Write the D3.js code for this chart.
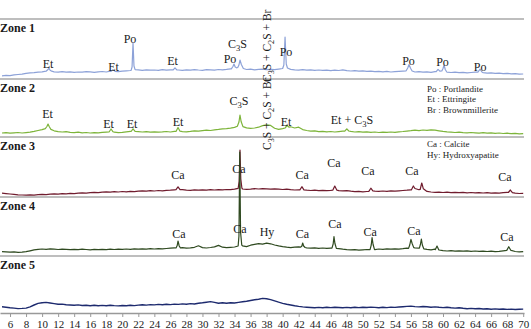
<!DOCTYPE html>
<html>
<head>
<meta charset="utf-8">
<script src="https://cdn.jsdelivr.net/npm/d3@7"></script>
<style>
  body { margin: 0; background: #fff; }
  svg { display: block; }
  text { font-family: "Liberation Serif", "Times New Roman", serif; fill: #1a1a1a; }
</style>
</head>
<body>
<svg id="chart" width="531" height="329"></svg>
<script>
// XRD patterns, intensity (arbitrary units, 0 = zone floor)
const zoneNames = ['Zone 1', 'Zone 2', 'Zone 3', 'Zone 4', 'Zone 5'];
const zoneColors = ['#8da2d8', '#7db43a', '#701c2e', '#2f4a20', '#1d2a6e'];

// baseline sampled every 0.5 deg, 5 -> 70
const thetaStart = 5, thetaStep = 0.5;

const zone1Base = [
  3.2, 3.6, 3.4, 4.1, 4.5, 4.9, 5.6, 6.1, 6.4, 6.9,
  7.2, 7.8, 7.6, 7.1, 6.8, 7.3, 6.9, 7.2, 6.6, 7.0,
  6.8, 7.4, 7.1, 6.7, 7.2, 7.5, 7.0, 7.8, 7.6, 7.3,
  7.9, 8.2, 8.5, 9.6, 9.1, 8.7, 9.2, 8.8, 9.0, 8.6,
  9.3, 8.9, 9.1, 9.6, 9.0, 8.7, 9.2, 8.8, 9.4, 9.0,
  8.7, 9.3, 9.1, 8.8, 9.5, 9.2, 9.6, 10.1, 10.4, 10.8,
  10.2, 9.5, 9.8, 9.2, 9.6, 9.9, 9.4, 9.7, 9.3, 9.9,
  10.4, 10.6, 9.6, 9.2, 8.9, 9.3, 8.8, 9.1, 8.7, 9.0,
  8.6, 8.9, 8.4, 8.8, 8.5, 9.2, 8.3, 8.0, 8.4, 7.8,
  8.1, 7.6, 7.9, 7.4, 7.7, 7.2, 7.6, 7.0, 7.3, 7.6,
  7.9, 8.3, 7.6, 7.0, 7.4, 6.8, 7.1, 6.6, 7.3, 7.9,
  7.4, 6.8, 6.5, 6.9, 6.3, 6.6, 6.1, 6.5, 6.8, 7.2,
  6.4, 5.9, 6.2, 5.6, 5.9, 5.4, 5.7, 5.1, 5.4, 4.8,
  5.0
];
const zone2Base = [
  4.0, 4.3, 3.8, 4.2, 4.5, 4.0, 4.4, 4.8, 5.6, 6.5,
  7.4, 8.6, 7.5, 6.2, 5.4, 5.0, 5.3, 4.7, 4.4, 4.8,
  4.2, 4.5, 4.0, 4.4, 4.1, 4.6, 4.9, 5.3, 4.8, 4.4,
  4.7, 5.2, 5.6, 5.8, 5.3, 5.0, 5.4, 4.9, 5.2, 4.8,
  5.1, 5.5, 5.0, 5.6, 5.8, 5.4, 5.2, 5.6, 6.2, 5.8,
  6.4, 6.9, 6.5, 7.2, 7.6, 8.1, 8.4, 8.9, 9.6, 10.5,
  10.2, 9.1, 8.6, 9.0, 9.8, 11.4, 12.2, 11.6, 8.8, 7.6,
  8.3, 9.5, 10.2, 9.0, 9.8, 7.4, 6.5, 5.8, 6.2, 5.4,
  5.7, 5.2, 5.5, 5.0, 5.4, 5.8, 6.3, 5.6, 5.0, 5.3,
  4.8, 5.1, 4.6, 5.0, 4.5, 4.9, 4.6, 5.0, 4.7, 5.2,
  5.5, 5.9, 6.3, 6.8, 6.4, 7.0, 6.6, 7.2, 6.8, 6.2,
  5.6, 5.1, 4.8, 4.5, 4.9, 4.4, 4.1, 4.5, 4.2, 3.9,
  4.3, 3.8, 4.1, 3.6, 4.0, 3.5, 3.8, 3.3, 3.6, 3.2,
  3.4
];
const zone3Base = [
  3.8, 3.4, 3.0, 2.6, 2.2, 2.0, 1.8, 2.1, 1.9, 2.4,
  2.6, 2.3, 2.8, 3.1, 2.9, 3.4, 3.2, 3.6, 3.4, 3.9,
  4.1, 3.8, 4.3, 4.6, 4.4, 4.9, 5.2, 4.8, 5.3, 5.0,
  5.5, 5.2, 5.7, 5.4, 5.9, 6.2, 5.8, 6.3, 6.0, 6.5,
  6.2, 6.7, 6.9, 7.2, 7.0, 7.4, 6.9, 6.6, 7.1, 6.8,
  7.2, 6.9, 7.3, 7.0, 7.4, 7.1, 7.5, 7.3, 7.8, 8.4,
  8.0, 7.6, 7.9, 8.3, 8.0, 8.4, 8.1, 7.8, 8.2, 7.9,
  7.5, 7.8, 7.3, 7.0, 7.2, 7.4, 6.8, 6.5, 6.9, 6.4,
  6.7, 6.3, 6.6, 6.9, 6.4, 6.1, 6.3, 5.8, 5.4, 5.6,
  5.2, 5.5, 6.0, 5.8, 5.6, 6.0, 5.7, 6.1, 5.8, 6.2,
  6.5, 6.8, 7.2, 7.0, 7.3, 6.6, 5.6, 5.0, 4.7, 4.9,
  4.5, 4.8, 4.4, 4.7, 4.3, 4.6, 4.2, 4.5, 4.1, 4.4,
  4.0, 4.3, 3.9, 4.2, 3.8, 4.3, 4.6, 4.4, 3.8, 3.5,
  3.6
];
const zone4Base = [
  4.4, 4.1, 3.8, 4.2, 3.7, 3.9, 4.3, 5.2, 6.1, 6.6,
  7.0, 6.7, 7.1, 6.8, 6.5, 6.9, 6.6, 6.3, 6.7, 6.4,
  6.8, 6.5, 6.2, 6.6, 6.3, 6.7, 6.4, 6.8, 6.5, 6.9,
  6.6, 7.0, 6.7, 7.1, 6.8, 7.2, 6.9, 7.3, 7.0, 7.4,
  7.1, 7.5, 7.8, 8.1, 7.9, 8.3, 7.8, 8.2, 8.7, 10.2,
  8.4, 8.0, 8.5, 9.1, 10.6, 8.8, 8.3, 8.7, 9.0, 10.5,
  10.2, 9.4, 10.8, 11.6, 12.3, 11.8, 12.8, 12.2, 11.0, 10.1,
  9.3, 8.8, 8.4, 8.8, 9.2, 8.6, 8.2, 7.8, 8.1, 7.7,
  8.0, 7.6, 7.9, 7.5, 7.3, 6.8, 6.4, 6.1, 6.3, 5.9,
  6.2, 6.5, 6.1, 6.4, 7.0, 6.7, 7.1, 6.8, 7.2, 6.9,
  7.3, 7.8, 7.5, 8.2, 7.9, 7.4, 6.6, 6.2, 6.8, 6.0,
  5.4, 5.0, 5.3, 4.9, 5.2, 4.8, 5.1, 4.7, 5.0, 4.6,
  4.9, 4.5, 4.8, 4.4, 4.7, 5.2, 5.8, 5.6, 4.5, 4.2,
  4.4
];
const zone5Base = [
  6.2, 5.8, 5.3, 4.9, 4.4, 4.6, 4.9, 6.2, 8.0, 9.6,
  10.3, 10.6, 10.0, 9.4, 8.7, 8.9, 8.3, 8.0, 7.7, 8.1,
  7.5, 7.8, 7.3, 7.7, 7.2, 7.6, 7.3, 7.8, 7.4, 7.1,
  7.5, 7.2, 7.7, 7.4, 7.9, 8.3, 7.9, 8.4, 8.1, 8.6,
  8.2, 8.7, 8.4, 8.9, 8.6, 9.1, 8.8, 9.4, 9.0, 9.7,
  10.2, 10.8, 11.4, 10.6, 9.8, 10.2, 9.7, 10.3, 10.0, 10.6,
  11.2, 11.8, 12.5, 13.2, 13.8, 14.6, 14.2, 13.4, 12.1, 10.8,
  9.6, 8.7, 8.0, 7.2, 6.6, 6.1, 5.8, 5.5, 5.2, 5.6,
  5.3, 5.7, 5.4, 5.8, 5.5, 5.2, 5.6, 5.3, 5.7, 5.4,
  5.8, 5.5, 5.9, 5.6, 5.3, 5.7, 5.4, 5.9, 5.6, 6.0,
  6.3, 6.6, 6.9, 6.4, 6.1, 6.5, 6.2, 5.8, 6.1, 5.7,
  5.4, 5.8, 5.3, 4.9, 5.2, 4.7, 4.3, 4.6, 4.2, 4.5,
  4.0, 4.3, 3.8, 4.1, 3.7, 4.0, 3.6, 3.9, 3.5, 3.8,
  3.9
];

// reflections: [2theta, intensity] points
const zone1Peaks = [
  [[10.5, 7.8], [10.7, 9.2], [10.86, 10.8], [11.0, 8.8], [11.2, 7.8]],
  [[18.6, 7.6], [18.84, 9.4], [19.1, 7.7]],
  [[21.1, 8.7], [21.22, 12], [21.34, 36], [21.46, 13], [21.6, 9.4]],
  [[26.35, 9.2], [26.57, 11.2], [26.8, 9.1]],
  [[33.6, 10.1], [33.8, 12.5], [33.93, 15], [34.08, 12], [34.25, 11.2]],
  [[34.4, 11.5], [34.55, 14], [34.68, 19], [34.85, 14.5], [35.1, 10.5]],
  [[40.0, 10.5], [40.15, 14], [40.3, 42], [40.45, 15], [40.6, 11]],
  [[55.4, 8.2], [55.6, 11], [55.76, 14.5], [55.95, 10.8], [56.15, 8.0]],
  [[59.15, 7.4], [59.38, 9.6], [59.6, 7.8]],
  [[59.85, 8.0], [60.0, 10.5], [60.13, 14], [60.28, 9.5], [60.45, 7.2]],
  [[64.35, 6.9], [64.62, 9.8], [64.85, 7.0]]
];
const zone2Peaks = [
  [[10.4, 8.4], [10.6, 10.5], [10.74, 13], [10.9, 10.2], [11.1, 7.6]],
  [[18.35, 5.0], [18.6, 8.0], [18.85, 5.2]],
  [[21.1, 5.5], [21.34, 8.2], [21.6, 5.6]],
  [[26.7, 5.6], [26.95, 9.5], [27.2, 5.8]],
  [[34.35, 10.8], [34.55, 15], [34.68, 22], [34.82, 15.5], [35.05, 10.4]],
  [[40.3, 9.0], [40.55, 11.5], [40.8, 9.8]],
  [[47.75, 5.8], [48.0, 8.2], [48.25, 6.0]]
];
const zone3Peaks = [
  [[26.7, 7.3], [26.95, 10.2], [27.2, 7.4]],
  [[34.45, 8.6], [34.58, 16], [34.68, 47], [34.78, 18], [34.92, 8.8]],
  [[42.15, 7.1], [42.4, 10.3], [42.65, 7.2]],
  [[46.25, 6.8], [46.5, 11], [46.75, 6.9]],
  [[50.75, 5.6], [51.0, 8.8], [51.25, 6.1]],
  [[56.05, 7.1], [56.3, 11], [56.5, 8.5]],
  [[57.15, 7.5], [57.35, 14], [57.55, 8.2]],
  [[68.15, 4.5], [68.4, 7.0], [68.65, 4.3]]
];
const zone4Peaks = [
  [[26.7, 8.0], [26.85, 10.5], [26.95, 15], [27.1, 10], [27.25, 8.2]],
  [[34.45, 10.0], [34.55, 20], [34.65, 104], [34.75, 24], [34.9, 11]],
  [[42.25, 8.8], [42.4, 10], [42.5, 13], [42.62, 10], [42.8, 8.5]],
  [[46.15, 7.9], [46.3, 12], [46.4, 19.3], [46.52, 12.5], [46.7, 7.6]],
  [[50.9, 6.3], [51.05, 11], [51.15, 18.3], [51.28, 11.5], [51.45, 6.6]],
  [[55.7, 7.6], [55.85, 11], [56.0, 16.7], [56.15, 12.5], [56.35, 8.4]],
  [[57.05, 7.8], [57.18, 11.5], [57.3, 17], [57.42, 11], [57.6, 7.2]],
  [[59.05, 6.4], [59.25, 10], [59.45, 6.5]],
  [[67.95, 5.6], [68.2, 9.3], [68.45, 5.8]]
];
const zone5Peaks = [];

// phase labels: [text, 2theta, intensity at text baseline]
const zone1Labels = [
  ['Et', 10.74, 11], ['Et', 18.91, 8], ['Po', 20.96, 36], ['Et', 26.26, 14],
  ['Po', 33.44, 16], ['C_3S', 34.37, 31], ['Po', 40.42, 23],
  ['Po', 55.7, 14], ['Po', 59.94, 13], ['Po', 64.62, 8.5]
];
const zone2Labels = [
  ['Et', 10.67, 18.7], ['Et', 18.28, 8.7], ['Et', 21.21, 8.7], ['Et', 26.95, 11],
  ['C_3S', 34.56, 32], ['Et', 40.42, 11], ['Et + C_3S', 48.65, 13.5]
];
const zone3Labels = [
  ['Ca', 26.95, 17.7], ['Ca', 34.56, 24.3], ['Ca', 42.42, 17.7], ['Ca', 46.41, 30.3],
  ['Ca', 50.65, 22], ['Ca', 56.13, 22], ['Ca', 67.73, 16.3]
];
const zone4Labels = [
  ['Ca', 27.07, 17.7], ['Ca', 34.68, 23.3], ['Hy', 38.05, 20], ['Ca', 42.48, 17.7],
  ['Ca', 46.53, 27.7], ['Ca', 50.9, 20], ['Ca', 56.38, 21], ['Ca', 67.98, 15.3]
];
const zone5Labels = [];

// vertical labels: [zone, text, 2theta, intensity where the text starts]
const verticalLabels = [
  [0, 'C_3S + C_2S + Br', 38.55, -3],
  [1, 'C_3S + C_2S + Br', 38.55, -13]
];

const legendZone2 = ['Po : Portlandite', 'Et : Ettringite', 'Br : Brownmillerite'];
const legendZone3 = ['Ca : Calcite', 'Hy: Hydroxyapatite'];

const xTicks = [6, 8, 10, 12, 14, 16, 18, 20, 22, 24, 26, 28, 30, 32, 34, 36, 38,
  40, 42, 44, 46, 48, 50, 52, 54, 56, 58, 60, 62, 64, 66, 68, 70];

const bases = [zone1Base, zone2Base, zone3Base, zone4Base, zone5Base];
const peaks = [zone1Peaks, zone2Peaks, zone3Peaks, zone4Peaks, zone5Peaks];
const labels = [zone1Labels, zone2Labels, zone3Labels, zone4Labels, zone5Labels];

// ---- layout
const floors = [79, 137, 197, 256, 313];   // bottom rule of every zone
const topRule = 19;

const svg = d3.select('#chart');

const x = d3.scaleLinear().domain([4.75, 70.1]).range([0, 524]);
const yFor = i => d3.scaleLinear().domain([0, 100]).range([floors[i], floors[i] - 100]);

function richText(sel, str) {
  let shifted = false;
  str.split(/_(\d)/).forEach((p, i) => {
    if (!p) return;
    const t = sel.append('tspan').text(p);
    if (i % 2 === 1) {
      t.attr('dy', 3).attr('font-size', '0.72em');
      shifted = true;
    } else if (shifted) {
      t.attr('dy', -3);
      shifted = false;
    }
  });
}

function series(i) {
  let pts = bases[i].map((v, k) => [thetaStart + k * thetaStep, v]);
  peaks[i].forEach(g => {
    const a = g[0][0], b = g[g.length - 1][0];
    pts = pts.filter(p => p[0] < a || p[0] > b);
  });
  peaks[i].forEach(g => { pts = pts.concat(g); });
  return pts.sort((p, q) => p[0] - q[0]);
}

// rules between zones
const rules = svg.append('g');
[topRule].concat(floors.slice(0, 4)).forEach(yy => {
  rules.append('line')
    .attr('x1', 0).attr('x2', 524)
    .attr('y1', yy).attr('y2', yy)
    .attr('stroke', '#a9a9a9').attr('stroke-width', 1.3);
});

// x axis
const axis = svg.append('g')
  .attr('transform', `translate(0,${floors[4]})`)
  .call(d3.axisBottom(x).tickValues(xTicks).tickSize(4).tickPadding(3).tickSizeOuter(0));
axis.select('.domain').attr('stroke', '#999').attr('stroke-width', 1.3);
axis.selectAll('.tick line').attr('stroke', '#999');
axis.selectAll('.tick text')
  .attr('font-family', '"Liberation Serif", serif')
  .attr('font-size', 11)
  .attr('fill', '#1a1a1a');

// traces
const line = d3.line();
zoneNames.forEach((name, i) => {
  const y = yFor(i);
  line.x(d => x(d[0])).y(d => y(d[1]));
  svg.append('path')
    .datum(series(i))
    .attr('fill', 'none')
    .attr('stroke', zoneColors[i])
    .attr('stroke-width', i === 4 ? 1.4 : 1.2)
    .attr('stroke-linejoin', 'round')
    .attr('d', line);
});

// zone titles
zoneNames.forEach((name, i) => {
  const top = i === 0 ? topRule : floors[i - 1];
  svg.append('text')
    .attr('x', 0)
    .attr('y', top + 13)
    .attr('font-size', 12)
    .attr('font-weight', 'bold')
    .text(name);
});

// phase labels
labels.forEach((list, i) => {
  const y = yFor(i);
  list.forEach(([t, th, v]) => {
    const el = svg.append('text')
      .attr('x', x(th))
      .attr('y', y(v))
      .attr('text-anchor', 'middle')
      .attr('font-size', 12);
    richText(el, t);
  });
});

verticalLabels.forEach(([i, t, th, v]) => {
  const y = yFor(i);
  const el = svg.append('text')
    .attr('transform', `translate(${x(th)},${y(v)}) rotate(-90)`)
    .attr('font-size', 11.5);
  richText(el, t);
});

// legends
const legX = x(58.0);
legendZone2.forEach((t, k) => {
  svg.append('text').attr('x', legX).attr('y', floors[0] + 12.5 + k * 10.5)
    .attr('font-size', 9).text(t);
});
legendZone3.forEach((t, k) => {
  svg.append('text').attr('x', legX).attr('y', floors[1] + 9.7 + k * 11.6)
    .attr('font-size', 9).text(t);
});
</script>
</body>
</html>
